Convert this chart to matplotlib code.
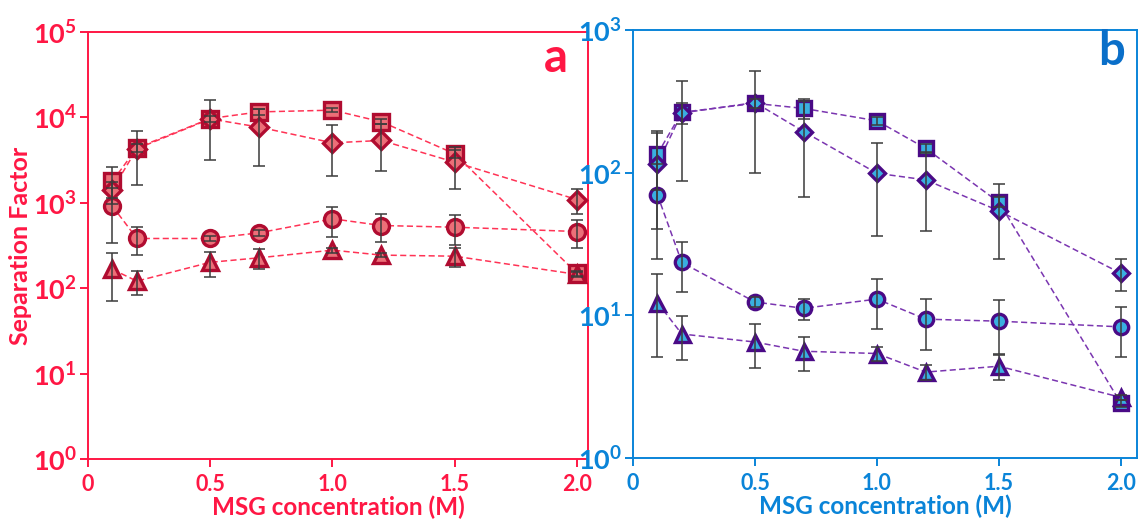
import matplotlib
matplotlib.use("Agg")
import matplotlib.pyplot as plt
from matplotlib.ticker import FixedLocator, FixedFormatter, NullLocator

plt.rcParams['font.family'] = ['Lato', 'DejaVu Sans']
plt.rcParams['font.weight'] = 'bold'
plt.rcParams['mathtext.fontset'] = 'custom'
plt.rcParams['mathtext.rm'] = 'Lato:bold'
plt.rcParams['mathtext.it'] = 'Lato:bold:italic'
plt.rcParams['mathtext.bf'] = 'Lato:bold'

# ---------------- data ----------------
msg = [0.1, 0.2, 0.5, 0.7, 1.0, 1.2, 1.5, 2.0]
xticks = [0, 0.5, 1.0, 1.5, 2.0]
xticklabels = ["0", "0.5", "1.0", "1.5", "2.0"]

# panel a
sq_a = [1790, 4400, 9700, 11600, 12150, 8880, 3750, 149]
sq_a_err = [820, 500, 800, 1000, 700, 600, 400, 10]
di_a = [1430, 4300, 9600, 7690, 5040, 5370, 2990, 1090]
di_a_err = [300, 2700, 6400, 5000, 3000, 3000, 1550, 350]
ci_a = [912, 382, 382, 445, 650, 542, 518, 461]
ci_a_err = [570, 140, 25, 40, 250, 195, 200, 165]
tr_a = [166, 121, 201, 227, 279, 244, 237, 145]
tr_a_err = [95, 37, 67, 60, 20, 15, 60, 8]
yexp_a = [0, 1, 2, 3, 4, 5]

# panel b
sq_b = [135, 265, 306, 282, 231, 148, 62, 2.42]
sq_b_err = [60, 45, 20, 45, 15, 10, 5, 0.15]
di_b = [115, 262, 310, 194, 99, 89, 54, 19.7]
di_b_err = [75, 175, 210, 126, 63, 50, 29, 5]
ci_b = [70, 23.5, 12.4, 11.2, 13, 9.4, 9.1, 8.3]
ci_b_err = [45, 9, 1, 1.9, 5, 3.7, 3.7, 3.2]
tr_b = [12.3, 7.4, 6.5, 5.6, 5.4, 4.0, 4.4, 2.66]
tr_b_err = [7.2, 2.5, 2.2, 1.5, 0.6, 0.5, 0.9, 0.1]
yexp_b = [0, 1, 2, 3]

# ---------------- style ----------------
RED = "#ff1744"
RED_EDGE = "#b00c30"
RED_FACE = "#ec6f78"
RED_LINE = "#ff3355"
BLUE = "#0a84d8"
BLUE_B = "#0a6fc9"
BLUE_EDGE = "#4a0a86"
BLUE_FACE = "#3aafe0"
PURPLE_LINE = "#7a35b0"
ERR = "#3c3c3c"

fig = plt.figure(figsize=(11.39, 5.21), dpi=100)
ax_a = fig.add_axes([88/1139, 1-459/521, 500/1139, 427/521])
ax_b = fig.add_axes([633/1139, 1-458/521, 504/1139, 428/521])


def draw(ax, series, edge, face, line, ms_scale):
    for vals, errs, mk, ms in series:
        ax.plot(msg, vals, linestyle=(0, (4, 2.2)), color=line, lw=1.1, zorder=2)
        ax.plot(msg, vals, linestyle='none', marker=mk, ms=ms * ms_scale,
                mfc=face, mec=edge, mew=2.4, zorder=3)
        ax.errorbar(msg, vals, yerr=errs, fmt='none', ecolor=ERR, elinewidth=1.3,
                    capsize=4.5, capthick=1.3, zorder=4, alpha=0.85)


def style(ax, color, exps, xmax):
    ax.set_yscale('log')
    ax.set_ylim(10**exps[0], 10**exps[-1])
    ax.set_xlim(0, xmax)
    for s in ax.spines.values():
        s.set_color(color)
        s.set_linewidth(1.4)
    ax.xaxis.set_major_locator(FixedLocator(xticks))
    ax.xaxis.set_major_formatter(FixedFormatter(xticklabels))
    ax.yaxis.set_major_locator(FixedLocator([10.0**e for e in exps]))
    ax.yaxis.set_major_formatter(FixedFormatter([r"$10^{%d}$" % e for e in exps]))
    ax.yaxis.set_minor_locator(NullLocator())
    ax.tick_params(axis='both', colors=color, width=1.4, length=6, direction='out')
    ax.tick_params(axis='y', labelsize=19.5, pad=2)
    ax.tick_params(axis='x', labelsize=15.5, pad=5)
    for lab in ax.get_xticklabels() + ax.get_yticklabels():
        lab.set_fontweight('bold')
    ax.set_xlabel("MSG concentration (M)", color=color, fontsize=17.5,
                  fontweight='bold', labelpad=0)


series_a = [(sq_a, sq_a_err, 's', 11), (di_a, di_a_err, 'D', 9),
            (ci_a, ci_a_err, 'o', 11.5), (tr_a, tr_a_err, '^', 12)]
series_b = [(sq_b, sq_b_err, 's', 11), (di_b, di_b_err, 'D', 9),
            (ci_b, ci_b_err, 'o', 11.5), (tr_b, tr_b_err, '^', 12)]

draw(ax_a, series_a, RED_EDGE, RED_FACE, RED_LINE, 1.0)
draw(ax_b, series_b, BLUE_EDGE, BLUE_FACE, PURPLE_LINE, 0.9)

style(ax_a, RED, yexp_a, 2.045)
style(ax_b, BLUE, yexp_b, 2.066)

ax_a.set_ylabel("Separation Factor", color=RED, fontsize=18, fontweight='bold')
ax_a.yaxis.set_label_coords(-0.112, 0.5)

ax_a.text(0.935, 0.94, "a", transform=ax_a.transAxes, color=RED, fontsize=34,
          fontweight='bold', ha='center', va='center')
ax_b.text(0.950, 0.95, "b", transform=ax_b.transAxes, color=BLUE_B, fontsize=34,
          fontweight='bold', ha='center', va='center')

fig.savefig("out.png", dpi=100)
